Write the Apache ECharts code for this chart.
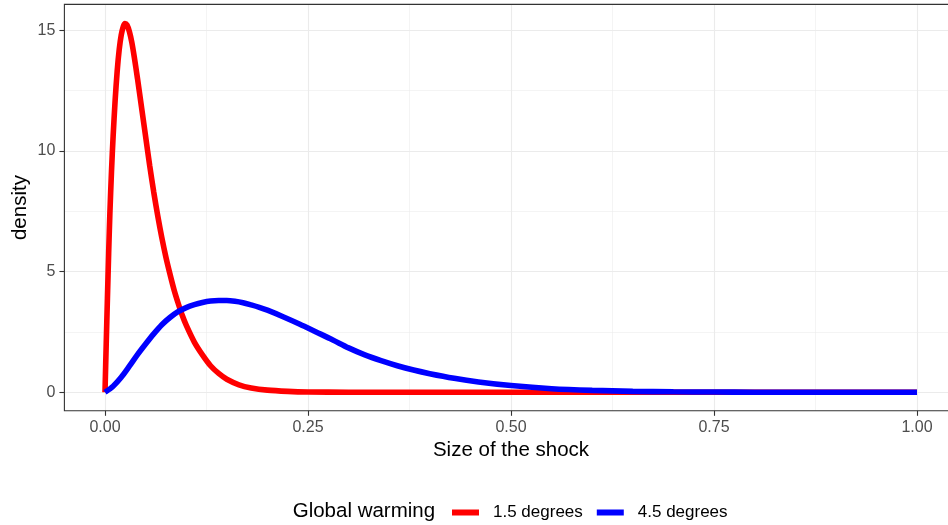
<!DOCTYPE html>
<html>
<head>
<meta charset="utf-8">
<script src="https://cdn.jsdelivr.net/npm/echarts@6/dist/echarts.min.js"></script>
<style>
html,body{margin:0;padding:0;background:#fff;}
#chart{width:948px;height:525px;}
</style>
</head>
<body>
<div id="chart"></div>
<script>
// ---- data ----
const seriesNames = ['1.5 degrees', '4.5 degrees'];
const redX = [0, 0.0015, 0.003, 0.0045, 0.006, 0.008, 0.010, 0.0125, 0.015, 0.0175, 0.020, 0.0225, 0.0246, 0.027, 0.030, 0.033, 0.036, 0.040, 0.045, 0.050, 0.055, 0.060, 0.065, 0.070, 0.075, 0.080, 0.085, 0.090, 0.095, 0.100, 0.110, 0.120, 0.130, 0.140, 0.150, 0.165, 0.180, 0.200, 0.225, 0.25, 0.3, 0.4, 0.6, 0.8, 1.0];
const redY = [0, 2.0, 3.9, 5.75, 7.4, 9.15, 10.6, 12.1, 13.3, 14.2, 14.8, 15.15, 15.28, 15.22, 14.95, 14.5, 13.9, 13.0, 11.8, 10.6, 9.4, 8.3, 7.3, 6.4, 5.6, 4.9, 4.25, 3.7, 3.2, 2.78, 2.08, 1.55, 1.1, 0.78, 0.54, 0.31, 0.18, 0.09, 0.04, 0.015, 0.003, 0, 0, 0, 0];
const blueX = [0, 0.01, 0.02, 0.03, 0.04, 0.05, 0.06, 0.07, 0.08, 0.09, 0.10, 0.11, 0.12, 0.13, 0.14, 0.15, 0.16, 0.17, 0.18, 0.19, 0.20, 0.22, 0.24, 0.26, 0.28, 0.30, 0.32, 0.34, 0.36, 0.38, 0.40, 0.43, 0.46, 0.50, 0.55, 0.60, 0.65, 0.70, 0.75, 0.80, 0.90, 1.00];
const blueY = [0, 0.25, 0.62, 1.08, 1.56, 2.0, 2.42, 2.8, 3.1, 3.34, 3.51, 3.63, 3.72, 3.78, 3.8, 3.8, 3.77, 3.71, 3.62, 3.52, 3.4, 3.12, 2.82, 2.5, 2.18, 1.84, 1.55, 1.31, 1.1, 0.92, 0.77, 0.58, 0.43, 0.28, 0.15, 0.08, 0.04, 0.02, 0.01, 0.004, 0, 0];
const xTicks = [0, 0.25, 0.5, 0.75, 1.0];
const yTicks = [0, 5, 10, 15];
const colors = ['#FF0000', '#0000FF'];

const FONT = '"Liberation Sans", Arial, sans-serif';
const GRID_COL = '#EBEBEB';
const DARK = '#333333';

const chart = echarts.init(document.getElementById('chart'), null, {renderer: 'canvas'});

const pairs = (xs, ys) => xs.map((x, i) => [x, ys[i]]);

const option = {
  animation: false,
  backgroundColor: '#fff',
  textStyle: {fontFamily: FONT},
  grid: [
    // series grid: y from 0 to 15, panel width up to the canvas edge
    {left: 64.4, right: 0, top: 30.2, bottom: 132.7, containLabel: false},
    // x-axis grid: x from 0 to 1, full panel height
    {left: 105, right: 31, top: 4.4, bottom: 114.2, containLabel: false}
  ],
  xAxis: [
    {gridIndex: 0, type: 'value', min: -0.05, max: 1.0382, show: false},
    {
      gridIndex: 1, type: 'value', min: xTicks[0], max: xTicks[xTicks.length - 1], interval: 0.25, position: 'bottom',
      axisLine: {show: false, onZero: false},
      axisTick: {show: true, inside: false, length: 5, lineStyle: {color: DARK, width: 1.1}},
      axisLabel: {margin: 9, fontSize: 16, color: '#4D4D4D', fontFamily: FONT, formatter: v => v.toFixed(2)},
      splitLine: {show: true, lineStyle: {color: GRID_COL, width: 1.1}},
      minorTick: {show: false, splitNumber: 2},
      minorSplitLine: {show: true, lineStyle: {color: GRID_COL, width: 0.55}}
    }
  ],
  yAxis: [
    {
      gridIndex: 0, type: 'value', min: yTicks[0], max: yTicks[yTicks.length - 1], interval: 5,
      axisLine: {show: false, onZero: false},
      axisTick: {show: true, inside: false, length: 5, lineStyle: {color: DARK, width: 1.1}},
      axisLabel: {margin: 9, fontSize: 16, color: '#4D4D4D', fontFamily: FONT},
      splitLine: {show: true, lineStyle: {color: GRID_COL, width: 1.1}},
      minorTick: {show: false, splitNumber: 2},
      minorSplitLine: {show: true, lineStyle: {color: GRID_COL, width: 0.55}}
    },
    {gridIndex: 1, type: 'value', min: 0, max: 1, show: false}
  ],
  legend: {
    data: seriesNames,
    left: 447,
    top: 499,
    icon: 'rect',
    itemWidth: 27,
    itemHeight: 6,
    itemGap: 14,
    textStyle: {fontSize: 17, color: '#000', fontFamily: FONT, padding: [0, 0, 0, 9]}
  },
  graphic: [
    {type: 'rect', silent: true, z: 10, shape: {x: 64.4, y: 4.4, width: 920, height: 406.4}, style: {fill: 'none', stroke: DARK, lineWidth: 1.1}},
    {type: 'text', left: 292.7, top: 501, style: {text: 'Global warming', fill: '#000', font: '20.5px ' + FONT}},
    {type: 'text', x: 511, y: 450, style: {text: 'Size of the shock', fill: '#000', font: '20.5px ' + FONT, textAlign: 'center', textVerticalAlign: 'middle'}},
    {type: 'text', x: 20, y: 207.6, rotation: Math.PI / 2, style: {text: 'density', fill: '#000', font: '20.5px ' + FONT, textAlign: 'center', textVerticalAlign: 'middle'}}
  ],
  series: [
    {
      name: seriesNames[0], type: 'line', xAxisIndex: 0, yAxisIndex: 0,
      data: pairs(redX, redY), showSymbol: false, symbol: 'none', smooth: 0.3, clip: false,
      lineStyle: {color: colors[0], width: 5.6}, itemStyle: {color: colors[0]}, z: 3
    },
    {
      name: seriesNames[1], type: 'line', xAxisIndex: 0, yAxisIndex: 0,
      data: pairs(blueX, blueY), showSymbol: false, symbol: 'none', smooth: 0.3, clip: false,
      lineStyle: {color: colors[1], width: 5.6}, itemStyle: {color: colors[1]}, z: 4
    }
  ]
};
chart.setOption(option);
</script>
</body>
</html>
